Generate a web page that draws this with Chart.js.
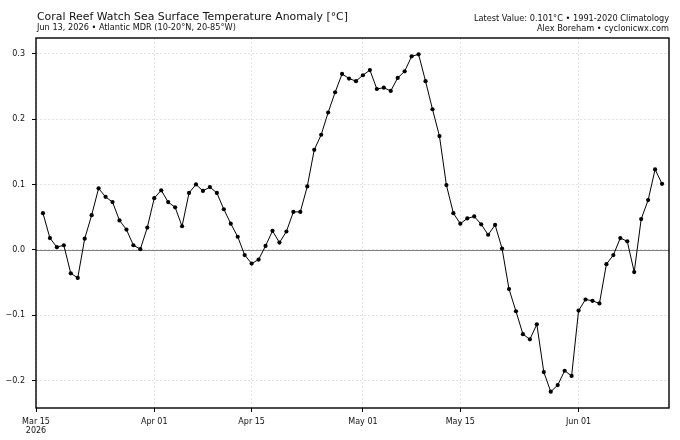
<!DOCTYPE html>
<html>
<head>
<meta charset="utf-8">
<script src="https://cdn.jsdelivr.net/npm/chart.js@4/dist/chart.umd.min.js"></script>
<style>
html,body{margin:0;padding:0;background:#fff;}
#wrap{width:680px;height:440px;position:relative;}
</style>
</head>
<body>
<div id="wrap"><canvas id="c" width="680" height="440"></canvas></div>
<script>
// ---- data ----
const axisStart = '2026-03-15';          // left edge of the axis
const firstDate = '2026-03-16';          // first observation
const anomalies = [
  0.056, 0.018, 0.004, 0.007, -0.036, -0.043, 0.017, 0.053, 0.094, 0.081,
  0.073, 0.045, 0.031, 0.007, 0.001, 0.034, 0.079, 0.091, 0.073, 0.065,
  0.036, 0.087, 0.100, 0.090, 0.096, 0.087, 0.062, 0.040, 0.020, -0.008,
  -0.021, -0.015, 0.006, 0.029, 0.011, 0.028, 0.058, 0.058, 0.097, 0.153,
  0.176, 0.210, 0.241, 0.269, 0.262, 0.258, 0.267, 0.275, 0.246, 0.248,
  0.243, 0.263, 0.273, 0.296, 0.299, 0.258, 0.215, 0.174, 0.099, 0.056,
  0.040, 0.048, 0.051, 0.039, 0.023, 0.038, 0.002, -0.060, -0.094, -0.129,
  -0.137, -0.114, -0.187, -0.217, -0.207, -0.185, -0.193, -0.093, -0.076, -0.078,
  -0.082, -0.022, -0.008, 0.018, 0.013, -0.034, 0.047, 0.076, 0.123, 0.101
];
const xTickDates = ['2026-03-15','2026-04-01','2026-04-15','2026-05-01','2026-05-15','2026-06-01'];
const xTickLabels = [['Mar 15','2026'],'Apr 01','Apr 15','May 01','May 15','Jun 01'];
const yTicks = [-0.2, -0.1, 0.0, 0.1, 0.2, 0.3];
const titleText = 'Coral Reef Watch Sea Surface Temperature Anomaly [°C]';
const subtitleText = 'Jun 13, 2026 • Atlantic MDR (10-20°N, 20-85°W)';
const infoLine1 = 'Latest Value: 0.101°C • 1991-2020 Climatology';
const infoLine2 = 'Alex Boreham • cyclonicwx.com';

// ---- derived ----
const DAY = 86400000;
const t0 = Date.parse(axisStart + 'T00:00:00Z');
const tFirst = Date.parse(firstDate + 'T00:00:00Z');
const dayOf = s => (Date.parse(s + 'T00:00:00Z') - t0) / DAY;
const firstOffset = (tFirst - t0) / DAY;
const points = anomalies.map((v, i) => ({x: firstOffset + i, y: v}));
const xTickPos = xTickDates.map(dayOf);
const xMax = firstOffset + anomalies.length; // one day padding after last obs

const FONT = "'DejaVu Sans', 'Liberation Sans', sans-serif";

const decor = {
  id: 'decor',
  beforeDatasetsDraw(chart) {
    const {ctx, chartArea: a, scales: {y}} = chart;
    const yz = Math.round(y.getPixelForValue(0)) + 0.5;
    ctx.save();
    ctx.strokeStyle = '#808080';
    ctx.lineWidth = 1;
    ctx.beginPath();
    ctx.moveTo(a.left, yz);
    ctx.lineTo(a.right, yz);
    ctx.stroke();
    ctx.restore();
  },
  afterDraw(chart) {
    const {ctx, chartArea: a} = chart;
    ctx.save();
    ctx.strokeStyle = '#000';
    ctx.lineWidth = 1.4;
    ctx.strokeRect(a.left, a.top, a.right - a.left, a.bottom - a.top);
    ctx.fillStyle = '#111';
    ctx.textBaseline = 'alphabetic';
    ctx.textAlign = 'left';
    ctx.font = '10.9px ' + FONT;
    ctx.fillText(titleText, 37, 19.5);
    ctx.font = '8.2px ' + FONT;
    ctx.fillText(subtitleText, 37, 30);
    ctx.textAlign = 'right';
    ctx.fillText(infoLine1, 669, 20.8);
    ctx.fillText(infoLine2, 669, 31.3);
    ctx.restore();
  }
};

new Chart(document.getElementById('c'), {
  type: 'line',
  data: {
    datasets: [{
      data: points,
      borderColor: '#000',
      backgroundColor: '#000',
      borderWidth: 1,
      pointRadius: 2.1,
      pointBorderWidth: 0,
      pointBackgroundColor: '#000',
      tension: 0,
      fill: false
    }]
  },
  options: {
    responsive: false,
    animation: false,
    devicePixelRatio: 1,
    layout: {padding: {left: 0, top: 38, right: 11, bottom: 0}},
    plugins: {legend: {display: false}, tooltip: {enabled: false}, title: {display: false}},
    scales: {
      x: {
        type: 'linear',
        min: 0,
        max: xMax,
        afterFit: s => { s.height = 32; },
        afterBuildTicks: s => { s.ticks = xTickPos.map(v => ({value: v})); },
        border: {display: false, dash: [2, 2]},
        grid: {color: '#dcdcdc', lineWidth: 0.8, drawTicks: true, tickLength: 4, tickColor: '#000', tickWidth: 1},
        ticks: {
          color: '#111',
          font: {family: FONT, size: 8},
          padding: 5,
          maxRotation: 0,
          autoSkip: false,
          callback: v => { const i = xTickPos.indexOf(v); return i >= 0 ? xTickLabels[i] : ''; }
        }
      },
      y: {
        type: 'linear',
        min: -0.242,
        max: 0.324,
        afterFit: s => { s.width = 36; },
        afterBuildTicks: s => { s.ticks = yTicks.map(v => ({value: v})); },
        border: {display: false, dash: [2, 2]},
        grid: {color: '#dcdcdc', lineWidth: 0.8, drawTicks: true, tickLength: 4, tickColor: '#000', tickWidth: 1},
        ticks: {
          color: '#111',
          font: {family: FONT, size: 8},
          padding: 7,
          autoSkip: false,
          callback: v => v.toFixed(1).replace('-', '\u2212')
        }
      }
    }
  },
  plugins: [decor]
});
</script>
</body>
</html>
